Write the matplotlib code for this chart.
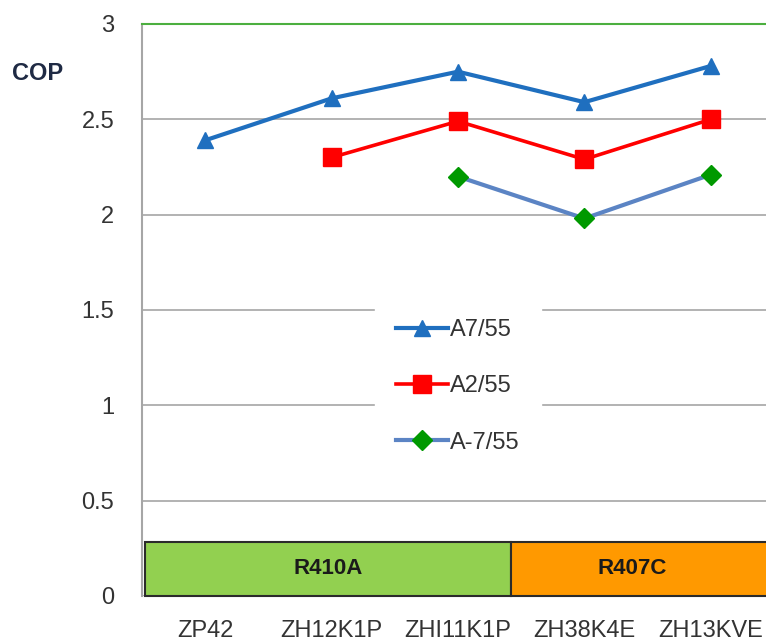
import matplotlib
matplotlib.use("Agg")
import matplotlib.pyplot as plt
from matplotlib.patches import Rectangle

plt.rcParams['font.family'] = ['Liberation Sans', 'DejaVu Sans']

# Compressor models and COP at each operating point
models = ["ZP42", "ZH12K1P", "ZHI11K1P", "ZH38K4E", "ZH13KVE"]
cop_a7 = [2.39, 2.61, 2.75, 2.59, 2.78]
cop_a2 = [None, 2.30, 2.49, 2.29, 2.50]
cop_am7 = [None, None, 2.20, 1.98, 2.21]
series_names = ["A7/55", "A2/55", "A-7/55"]

# Refrigerant groups shown as a band along the bottom
refrigerants = ["R410A", "R407C"]
y_ticks = [0, 0.5, 1, 1.5, 2, 2.5, 3]

W, H = 766, 643
fig = plt.figure(figsize=(W / 100, H / 100), dpi=100)
ax = fig.add_axes([142 / W, 47 / H, (774 - 142) / W, (596 - 24) / H])

x = list(range(len(models)))


def pts(vals):
    xs = [i for i, v in zip(x, vals) if v is not None]
    ys = [v for v in vals if v is not None]
    return xs, ys


xs, ys = pts(cop_a7)
l1, = ax.plot(xs, ys, color="#1F6FBF", lw=3.0, marker="^", ms=11,
              markerfacecolor="#1F6FBF", markeredgecolor="#1F6FBF",
              label=series_names[0], zorder=4)
xs, ys = pts(cop_a2)
l2, = ax.plot(xs, ys, color="#FF0000", lw=2.6, marker="s", ms=13,
              markerfacecolor="#FF0000", markeredgecolor="#FF0000",
              label=series_names[1], zorder=4)
xs, ys = pts(cop_am7)
l3, = ax.plot(xs, ys, color="#5B84C4", lw=3.0, marker="D", ms=10,
              markerfacecolor="#009900", markeredgecolor="#009900",
              label=series_names[2], zorder=4)

ax.set_xlim(-0.5, 4.5)
ax.set_ylim(0, 3)
ax.set_yticks(y_ticks)
ax.set_yticklabels([f"{t:g}" for t in y_ticks])
ax.set_xticks(x)
ax.set_xticklabels(models)
ax.tick_params(axis="both", length=0, labelsize=17, colors="#333333")
ax.tick_params(axis="y", pad=20)
ax.tick_params(axis="x", pad=17)

ax.yaxis.grid(True, color="#A6A6A6", lw=1.2)
ax.set_axisbelow(True)
for s in ["right", "bottom"]:
    ax.spines[s].set_visible(False)
ax.spines["left"].set_color("#A6A6A6")
ax.spines["left"].set_linewidth(1.5)
ax.spines["top"].set_color("#4CAF3F")
ax.spines["top"].set_linewidth(1.5)

# Refrigerant band
band_top = 0.285
split = 2.42
ax.add_patch(Rectangle((-0.474, 0), split + 0.474, band_top, facecolor="#92D050",
                       edgecolor="#2b2b2b", lw=1.5, zorder=3, clip_on=False))
ax.add_patch(Rectangle((split, 0), 4.6 - split, band_top, facecolor="#FF9900",
                       edgecolor="#2b2b2b", lw=1.5, zorder=3, clip_on=False))
ax.text(0.97, band_top / 2, refrigerants[0], ha="center", va="center",
        fontsize=16, fontweight="bold", color="#1a1a1a", zorder=5)
ax.text(3.375, band_top / 2, refrigerants[1], ha="center", va="center",
        fontsize=16, fontweight="bold", color="#1a1a1a", zorder=5)

leg = ax.legend(handles=[l1, l2, l3], loc="center", bbox_to_anchor=(2.0, 1.1),
                bbox_transform=ax.transData, frameon=True, fontsize=17,
                handlelength=2.2, handletextpad=0.1, labelspacing=1.45,
                borderpad=0.9, fancybox=False)
leg.get_frame().set_facecolor("white")
leg.get_frame().set_edgecolor("white")
leg.get_frame().set_alpha(1)
for t in leg.get_texts():
    t.set_color("#333333")

fig.text(38 / W, 1 - 73 / H, "COP", ha="center", va="center", fontsize=17,
         fontweight="bold", color="#1F2A44")

fig.savefig("out.png", dpi=100)
